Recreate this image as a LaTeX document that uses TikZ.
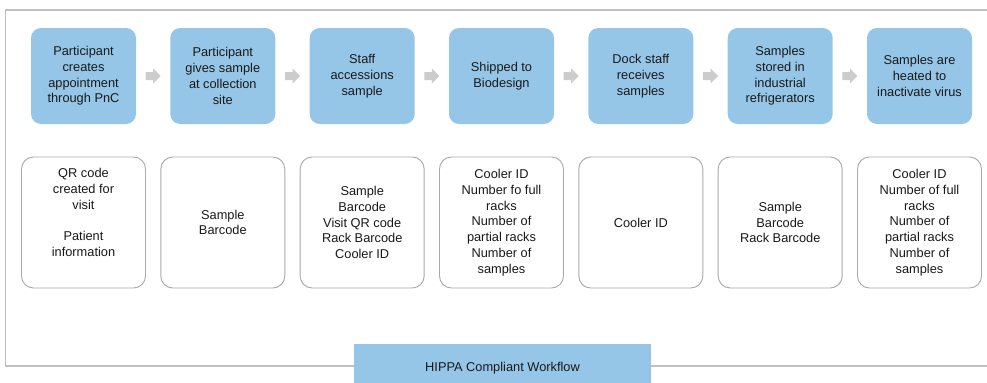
\documentclass[tikz,border=0pt]{standalone}
\usepackage{fontspec}
\setmainfont{Liberation Sans}
\usetikzlibrary{calc}
\definecolor{stepblue}{RGB}{149,198,231}
\definecolor{arrowgray}{RGB}{204,204,204}
\definecolor{boxgray}{RGB}{170,170,170}
\definecolor{framegray}{RGB}{192,192,192}
\definecolor{txt}{RGB}{25,25,25}
\tikzset{
  bluebox/.style={fill=stepblue, draw=none, rounded corners=7.5pt, minimum width=78.75pt, minimum height=72pt, inner sep=0pt, align=center, text=txt, font=\fontsize{9.6pt}{11.8pt}\selectfont},
  infobox/.style={draw=boxgray, line width=0.7pt, fill=white, rounded corners=9pt, minimum width=93pt, minimum height=98.25pt, inner sep=0pt, align=center, text=txt, font=\fontsize{9.6pt}{11.8pt}\selectfont},
  flowarrow/.style={fill=arrowgray, draw=none},
  titlebar/.style={fill=stepblue, draw=none, minimum width=222.75pt, minimum height=36pt, inner sep=0pt, text=txt, font=\fontsize{9.6pt}{11.8pt}\selectfont},
}
\begin{document}
\begin{tikzpicture}[x=0.75pt,y=-0.75pt]
\useasboundingbox (0,0) rectangle (987,382);
% frame
\draw[framegray, line width=1.1pt] (995,10) -- (5.5,10) -- (5.5,366) -- (995,366);
% blue step boxes
\node[bluebox] (b1) at (83.5,76) {Participant\\creates\\appointment\\through PnC};
\node[bluebox] (b2) at (222.8,76) {Participant\\gives sample\\at collection\\site};
\node[bluebox] (b3) at (362.2,76) {Staff\\accessions\\sample};
\node[bluebox] (b4) at (501.5,76) {Shipped to\\Biodesign};
\node[bluebox] (b5) at (640.8,76) {Dock staff\\receives\\samples};
\node[bluebox] (b6) at (780.2,76) {Samples\\stored in\\industrial\\refrigerators};
\node[bluebox] (b7) at (919.5,76) {Samples are\\heated to\\inactivate virus};
% block arrows
\foreach \a/\b in {b1/b2,b2/b3,b3/b4,b4/b5,b5/b6,b6/b7}{
  \coordinate (arr-\a) at ($(\a.east)!0.5!(\b.west)$);
  \fill[flowarrow] ($(arr-\a)+(-7.5,-4)$) -- ($(arr-\a)+(0,-4)$) -- ($(arr-\a)+(0,-7.5)$)
    -- ($(arr-\a)+(7.5,0)$) -- ($(arr-\a)+(0,7.5)$) -- ($(arr-\a)+(0,4)$)
    -- ($(arr-\a)+(-7.5,4)$) -- cycle;
}
% info boxes
\node[infobox] (w1) at (83.5,222.5) {QR code\\created for\\visit\\\strut\\Patient\\information\\\strut};
\node[infobox] (w2) at (222.8,222.5) {Sample\\Barcode};
\node[infobox] (w3) at (362.2,222.5) {Sample\\Barcode\\Visit QR code\\Rack Barcode\\Cooler ID};
\node[infobox] (w4) at (501.5,222.5) {Cooler ID\\Number fo full\\racks\\Number of\\partial racks\\Number of\\samples};
\node[infobox] (w5) at (640.8,222.5) {Cooler ID};
\node[infobox] (w6) at (780.2,222.5) {Sample\\Barcode\\Rack Barcode};
\node[infobox] (w7) at (919.5,222.5) {Cooler ID\\Number of full\\racks\\Number of\\partial racks\\Number of\\samples};
% title bar
\node[titlebar] (title) at (502.5,368) {HIPPA Compliant Workflow};
\end{tikzpicture}
\end{document}
